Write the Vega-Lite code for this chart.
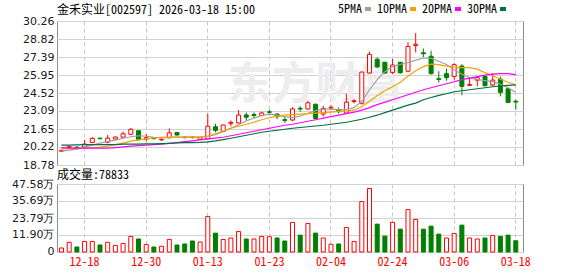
{
  "$schema": "https://vega.github.io/schema/vega-lite/v6.json",
  "padding": {"left": 0, "top": 3, "right": 0, "bottom": 0},
  "background": "#ffffff",
  "spacing": -3,
  "config": {
    "view": {"stroke": "#8c8c8c", "strokeWidth": 1},
    "font": "Noto Sans CJK SC",
    "axis": {"domain": false, "ticks": false, "labelFont": "DejaVu Sans", "labelFontSize": 11, "labelColor": "#1a1a1a", "labelOverlap": false, "labelBound": false, "labelFlush": false, "tickCount": 20},
    "axisY": {"grid": true, "gridColor": "#d2d2d2", "labelPadding": 3, "minExtent": 56, "maxExtent": 56},
    "axisX": {"grid": true, "gridColor": "#c8c8c8", "gridDash": [4, 3], "bandPosition": 0.5, "labelAngle": 0}
  },
  "datasets": {
    "k": [
      {"d": "12-15", "o": 19.88, "h": 20.0, "l": 19.82, "c": 19.95, "v": 2.8, "vd": "u", "5PMA": 19.88, "10PMA": 20.08, "20PMA": 20.16, "30PMA": 20.36},
      {"d": "12-16", "o": 20.18, "h": 20.32, "l": 20.1, "c": 20.24, "v": 6.8, "vd": "u", "5PMA": 19.96, "10PMA": 20.08, "20PMA": 20.14, "30PMA": 20.37},
      {"d": "12-17", "o": 20.2, "h": 20.26, "l": 20.1, "c": 20.16, "v": 3.5, "vd": "d", "5PMA": 20.04, "10PMA": 20.08, "20PMA": 20.12, "30PMA": 20.38},
      {"d": "12-18", "o": 20.21, "h": 20.79, "l": 20.15, "c": 20.45, "v": 7.4, "vd": "u", "5PMA": 20.2, "10PMA": 20.12, "20PMA": 20.12, "30PMA": 20.4},
      {"d": "12-19", "o": 20.58, "h": 21.0, "l": 20.52, "c": 20.9, "v": 7.4, "vd": "u", "5PMA": 20.36, "10PMA": 20.16, "20PMA": 20.12, "30PMA": 20.4},
      {"d": "12-22", "o": 20.92, "h": 20.96, "l": 20.82, "c": 20.88, "v": 4.9, "vd": "d", "5PMA": 20.52, "10PMA": 20.2, "20PMA": 20.12, "30PMA": 20.4},
      {"d": "12-23", "o": 20.6, "h": 21.17, "l": 20.5, "c": 20.92, "v": 6.8, "vd": "u", "5PMA": 20.64, "10PMA": 20.28, "20PMA": 20.13, "30PMA": 20.4},
      {"d": "12-24", "o": 20.85, "h": 21.05, "l": 20.82, "c": 21.01, "v": 4.6, "vd": "u", "5PMA": 20.76, "10PMA": 20.4, "20PMA": 20.17, "30PMA": 20.41},
      {"d": "12-25", "o": 21.0, "h": 21.45, "l": 20.95, "c": 21.27, "v": 6.0, "vd": "u", "5PMA": 20.91, "10PMA": 20.53, "20PMA": 20.22, "30PMA": 20.44},
      {"d": "12-26", "o": 21.23, "h": 21.72, "l": 21.18, "c": 21.63, "v": 10.9, "vd": "u", "5PMA": 21.03, "10PMA": 20.68, "20PMA": 20.28, "30PMA": 20.44},
      {"d": "12-29", "o": 21.51, "h": 21.55, "l": 20.75, "c": 20.79, "v": 9.1, "vd": "d", "5PMA": 21.11, "10PMA": 20.79, "20PMA": 20.32, "30PMA": 20.45},
      {"d": "12-30", "o": 20.85, "h": 21.25, "l": 20.68, "c": 20.95, "v": 5.3, "vd": "u", "5PMA": 21.07, "10PMA": 20.87, "20PMA": 20.36, "30PMA": 20.46},
      {"d": "12-31", "o": 20.92, "h": 20.95, "l": 20.82, "c": 20.88, "v": 3.5, "vd": "d", "5PMA": 20.99, "10PMA": 20.95, "20PMA": 20.4, "30PMA": 20.47},
      {"d": "01-05", "o": 20.78, "h": 20.9, "l": 20.7, "c": 20.82, "v": 4.0, "vd": "u", "5PMA": 20.95, "10PMA": 20.98, "20PMA": 20.44, "30PMA": 20.49},
      {"d": "01-06", "o": 20.95, "h": 21.69, "l": 20.9, "c": 21.34, "v": 8.8, "vd": "u", "5PMA": 20.99, "10PMA": 20.99, "20PMA": 20.5, "30PMA": 20.51},
      {"d": "01-07", "o": 21.37, "h": 21.4, "l": 21.12, "c": 21.17, "v": 4.9, "vd": "d", "5PMA": 21.01, "10PMA": 21.01, "20PMA": 20.56, "30PMA": 20.54},
      {"d": "01-08", "o": 21.0, "h": 21.1, "l": 20.9, "c": 20.96, "v": 5.6, "vd": "d", "5PMA": 21.01, "10PMA": 21.01, "20PMA": 20.64, "30PMA": 20.56},
      {"d": "01-09", "o": 21.0, "h": 21.06, "l": 20.9, "c": 20.96, "v": 7.7, "vd": "d", "5PMA": 21.01, "10PMA": 21.01, "20PMA": 20.71, "30PMA": 20.57},
      {"d": "01-12", "o": 20.83, "h": 21.0, "l": 20.8, "c": 20.98, "v": 7.0, "vd": "u", "5PMA": 21.01, "10PMA": 21.01, "20PMA": 20.79, "30PMA": 20.59},
      {"d": "01-13", "o": 20.87, "h": 22.87, "l": 20.85, "c": 21.87, "v": 24.9, "vd": "u", "5PMA": 21.07, "10PMA": 21.11, "20PMA": 20.87, "30PMA": 20.63},
      {"d": "01-14", "o": 21.83, "h": 22.07, "l": 21.38, "c": 21.54, "v": 13.2, "vd": "d", "5PMA": 21.19, "10PMA": 21.27, "20PMA": 20.93, "30PMA": 20.71},
      {"d": "01-15", "o": 21.45, "h": 22.0, "l": 21.42, "c": 21.97, "v": 8.8, "vd": "u", "5PMA": 21.43, "10PMA": 21.51, "20PMA": 20.99, "30PMA": 20.81},
      {"d": "01-16", "o": 22.1, "h": 22.33, "l": 21.87, "c": 22.18, "v": 9.8, "vd": "u", "5PMA": 21.71, "10PMA": 21.71, "20PMA": 21.11, "30PMA": 20.91},
      {"d": "01-19", "o": 22.13, "h": 23.15, "l": 22.1, "c": 22.76, "v": 14.4, "vd": "u", "5PMA": 21.99, "10PMA": 21.87, "20PMA": 21.23, "30PMA": 21.03},
      {"d": "01-20", "o": 22.77, "h": 22.97, "l": 22.35, "c": 22.59, "v": 9.1, "vd": "d", "5PMA": 22.31, "10PMA": 22.03, "20PMA": 21.35, "30PMA": 21.15},
      {"d": "01-21", "o": 22.8, "h": 22.97, "l": 22.5, "c": 22.72, "v": 9.1, "vd": "u", "5PMA": 22.51, "10PMA": 22.19, "20PMA": 21.47, "30PMA": 21.27},
      {"d": "01-22", "o": 22.73, "h": 23.03, "l": 22.7, "c": 22.93, "v": 10.9, "vd": "u", "5PMA": 22.71, "10PMA": 22.39, "20PMA": 21.59, "30PMA": 21.39},
      {"d": "01-23", "o": 23.02, "h": 23.19, "l": 22.77, "c": 22.98, "v": 10.7, "vd": "u", "5PMA": 22.83, "10PMA": 22.55, "20PMA": 21.71, "30PMA": 21.47},
      {"d": "01-26", "o": 22.84, "h": 22.9, "l": 22.43, "c": 22.63, "v": 9.8, "vd": "d", "5PMA": 22.75, "10PMA": 22.67, "20PMA": 21.83, "30PMA": 21.55},
      {"d": "01-27", "o": 22.4, "h": 22.6, "l": 22.13, "c": 22.33, "v": 7.7, "vd": "d", "5PMA": 22.63, "10PMA": 22.75, "20PMA": 21.95, "30PMA": 21.63},
      {"d": "01-28", "o": 22.37, "h": 23.39, "l": 22.27, "c": 23.25, "v": 20.7, "vd": "u", "5PMA": 22.55, "10PMA": 22.79, "20PMA": 22.03, "30PMA": 21.71},
      {"d": "01-29", "o": 23.3, "h": 23.47, "l": 23.03, "c": 23.24, "v": 11.8, "vd": "d", "5PMA": 22.67, "10PMA": 22.83, "20PMA": 22.15, "30PMA": 21.77},
      {"d": "01-30", "o": 23.24, "h": 23.9, "l": 23.2, "c": 23.74, "v": 20.0, "vd": "u", "5PMA": 22.91, "10PMA": 22.87, "20PMA": 22.27, "30PMA": 21.83},
      {"d": "02-02", "o": 23.62, "h": 23.68, "l": 22.45, "c": 22.49, "v": 13.2, "vd": "d", "5PMA": 23.11, "10PMA": 22.91, "20PMA": 22.39, "30PMA": 21.89},
      {"d": "02-03", "o": 22.84, "h": 23.5, "l": 22.65, "c": 23.29, "v": 9.8, "vd": "u", "5PMA": 23.23, "10PMA": 22.95, "20PMA": 22.51, "30PMA": 21.95},
      {"d": "02-04", "o": 23.32, "h": 23.55, "l": 23.15, "c": 23.38, "v": 5.4, "vd": "u", "5PMA": 23.23, "10PMA": 23.0, "20PMA": 22.63, "30PMA": 22.03},
      {"d": "02-05", "o": 23.2, "h": 23.36, "l": 22.88, "c": 23.03, "v": 5.6, "vd": "d", "5PMA": 23.19, "10PMA": 23.05, "20PMA": 22.75, "30PMA": 22.11},
      {"d": "02-06", "o": 22.92, "h": 24.46, "l": 22.9, "c": 23.79, "v": 17.2, "vd": "u", "5PMA": 23.19, "10PMA": 23.08, "20PMA": 22.87, "30PMA": 22.19},
      {"d": "02-09", "o": 23.84, "h": 24.04, "l": 23.69, "c": 23.9, "v": 7.4, "vd": "u", "5PMA": 23.35, "10PMA": 23.15, "20PMA": 22.99, "30PMA": 22.31},
      {"d": "02-10", "o": 23.7, "h": 26.22, "l": 23.59, "c": 26.19, "v": 35.3, "vd": "u", "5PMA": 23.86, "10PMA": 23.43, "20PMA": 23.15, "30PMA": 22.43},
      {"d": "02-11", "o": 26.11, "h": 27.81, "l": 26.05, "c": 27.6, "v": 44.4, "vd": "u", "5PMA": 24.78, "10PMA": 23.86, "20PMA": 23.35, "30PMA": 22.59},
      {"d": "02-12", "o": 27.21, "h": 27.35, "l": 26.51, "c": 26.6, "v": 19.5, "vd": "d", "5PMA": 25.58, "10PMA": 24.3, "20PMA": 23.59, "30PMA": 22.75},
      {"d": "02-13", "o": 26.97, "h": 27.0, "l": 26.05, "c": 26.11, "v": 11.1, "vd": "d", "5PMA": 26.22, "10PMA": 24.7, "20PMA": 23.79, "30PMA": 22.95},
      {"d": "02-24", "o": 26.16, "h": 27.24, "l": 26.03, "c": 26.75, "v": 20.7, "vd": "u", "5PMA": 26.62, "10PMA": 25.02, "20PMA": 23.98, "30PMA": 23.15},
      {"d": "02-25", "o": 26.97, "h": 27.0, "l": 26.05, "c": 26.14, "v": 16.0, "vd": "d", "5PMA": 26.79, "10PMA": 25.38, "20PMA": 24.18, "30PMA": 23.35},
      {"d": "02-26", "o": 26.26, "h": 28.57, "l": 26.2, "c": 28.23, "v": 29.7, "vd": "u", "5PMA": 26.94, "10PMA": 25.86, "20PMA": 24.38, "30PMA": 23.55},
      {"d": "02-27", "o": 28.3, "h": 29.3, "l": 27.76, "c": 28.4, "v": 22.8, "vd": "u", "5PMA": 27.14, "10PMA": 26.3, "20PMA": 24.58, "30PMA": 23.71},
      {"d": "03-02", "o": 27.73, "h": 28.07, "l": 27.37, "c": 27.65, "v": 16.0, "vd": "d", "5PMA": 27.29, "10PMA": 26.62, "20PMA": 24.78, "30PMA": 23.98},
      {"d": "03-03", "o": 27.45, "h": 27.89, "l": 26.0, "c": 26.06, "v": 18.1, "vd": "d", "5PMA": 27.29, "10PMA": 26.82, "20PMA": 24.94, "30PMA": 24.16},
      {"d": "03-04", "o": 25.66, "h": 26.26, "l": 25.34, "c": 25.6, "v": 12.5, "vd": "d", "5PMA": 27.05, "10PMA": 26.78, "20PMA": 25.1, "30PMA": 24.33},
      {"d": "03-05", "o": 26.06, "h": 26.46, "l": 25.5, "c": 25.74, "v": 9.8, "vd": "u", "5PMA": 26.79, "10PMA": 26.66, "20PMA": 25.26, "30PMA": 24.46},
      {"d": "03-06", "o": 25.84, "h": 26.9, "l": 25.58, "c": 26.78, "v": 13.0, "vd": "u", "5PMA": 26.38, "10PMA": 26.58, "20PMA": 25.42, "30PMA": 24.62},
      {"d": "03-09", "o": 26.67, "h": 26.82, "l": 24.34, "c": 25.05, "v": 18.8, "vd": "d", "5PMA": 26.02, "10PMA": 26.54, "20PMA": 25.58, "30PMA": 24.7},
      {"d": "03-10", "o": 25.13, "h": 25.79, "l": 25.06, "c": 25.2, "v": 9.8, "vd": "u", "5PMA": 25.74, "10PMA": 26.54, "20PMA": 25.7, "30PMA": 24.78},
      {"d": "03-11", "o": 25.54, "h": 25.86, "l": 25.06, "c": 25.74, "v": 9.1, "vd": "u", "5PMA": 25.58, "10PMA": 26.42, "20PMA": 25.82, "30PMA": 24.86},
      {"d": "03-12", "o": 25.84, "h": 25.9, "l": 25.05, "c": 25.1, "v": 9.8, "vd": "d", "5PMA": 25.5, "10PMA": 26.14, "20PMA": 25.94, "30PMA": 24.94},
      {"d": "03-13", "o": 25.16, "h": 26.11, "l": 25.05, "c": 25.55, "v": 11.6, "vd": "u", "5PMA": 25.42, "10PMA": 25.9, "20PMA": 26.03, "30PMA": 25.02},
      {"d": "03-16", "o": 25.63, "h": 25.83, "l": 24.25, "c": 24.57, "v": 10.9, "vd": "d", "5PMA": 25.22, "10PMA": 25.62, "20PMA": 26.06, "30PMA": 25.08},
      {"d": "03-17", "o": 24.86, "h": 24.9, "l": 23.75, "c": 23.77, "v": 11.8, "vd": "d", "5PMA": 24.94, "10PMA": 25.38, "20PMA": 26.06, "30PMA": 25.13},
      {"d": "03-18", "o": 23.86, "h": 23.98, "l": 23.19, "c": 23.8, "v": 7.88, "vd": "d", "5PMA": 24.58, "10PMA": 25.18, "20PMA": 25.98, "30PMA": 25.16}
    ]
  },
  "vconcat": [
    {
      "width": 466,
      "height": 144,
      "title": {"text": "金禾实业[002597] 2026-03-18 15:00", "anchor": "start", "frame": "group", "font": "Noto Sans Mono CJK SC, DejaVu Sans Mono, Noto Sans CJK SC", "fontSize": 12, "fontWeight": "normal", "color": "#000000", "offset": -2},
      "data": {"name": "k"},
      "encoding": {
        "x": {
          "field": "d", "type": "ordinal", "sort": null,
          "scale": {"domain": ["12-15","12-16","12-17","12-18","12-19","12-22","12-23","12-24","12-25","12-26","12-29","12-30","12-31","01-05","01-06","01-07","01-08","01-09","01-12","01-13","01-14","01-15","01-16","01-19","01-20","01-21","01-22","01-23","01-26","01-27","01-28","01-29","01-30","02-02","02-03","02-04","02-05","02-06","02-09","02-10","02-11","02-12","02-13","02-24","02-25","02-26","02-27","03-02","03-03","03-04","03-05","03-06","03-09","03-10","03-11","03-12","03-13","03-16","03-17","03-18"], "paddingInner": 0, "paddingOuter": 0.26, "align": 0.16},
          "axis": {"title": null, "labels": false, "minExtent": 0, "maxExtent": 0, "values": ["12-18","12-30","01-13","01-23","02-04","02-24","03-06","03-18"]}
        }
      },
      "layer": [
        {
          "data": {"values": [{"w": "东方财富"}]},
          "mark": {"type": "text", "fontSize": 44, "fontWeight": "bold", "font": "Noto Sans CJK SC", "color": "#ededed", "align": "center", "baseline": "middle"},
          "encoding": {
            "x": {"datum": "02-02", "type": "ordinal"},
            "y": {"datum": 25.1, "type": "quantitative", "scale": {"domain": [18.78, 30.26], "nice": false, "zero": false}},
            "text": {"field": "w"}
          }
        },
        {
          "mark": {"type": "rule", "strokeWidth": 1},
          "encoding": {
            "y": {"field": "l", "type": "quantitative", "title": null, "scale": {"domain": [18.78, 30.26], "nice": false, "zero": false}, "axis": {"title": null, "values": [18.78, 20.22, 21.65, 23.09, 24.52, 25.95, 27.39, 28.82, 30.26], "format": ".2f", "tickCount": 20}},
            "y2": {"field": "h"},
            "color": {"condition": {"test": "datum.c >= datum.o", "value": "#ff0000"}, "value": "#008000"}
          }
        },
        {
          "mark": {"type": "bar", "width": 4, "strokeWidth": 1},
          "encoding": {
            "y": {"field": "o", "type": "quantitative", "title": null},
            "y2": {"field": "c"},
            "fill": {"condition": {"test": "datum.c >= datum.o", "value": "#ffffff"}, "value": "#008000"},
            "stroke": {"condition": {"test": "datum.c >= datum.o", "value": "#ff0000"}, "value": "#008000"}
          }
        },
        {
          "transform": [{"fold": ["5PMA", "10PMA", "20PMA", "30PMA"], "as": ["ma", "val"]}],
          "mark": {"type": "line", "strokeWidth": 1.2},
          "encoding": {
            "y": {"field": "val", "type": "quantitative", "title": null},
            "color": {
              "field": "ma", "type": "nominal",
              "scale": {"domain": ["5PMA", "10PMA", "20PMA", "30PMA"], "range": ["#a0a0a0", "#f4a300", "#ff00ff", "#00703c"]},
              "legend": {"orient": "none", "legendX": 305, "legendY": -18, "direction": "horizontal", "title": null, "labelFont": "Noto Sans Mono CJK SC, DejaVu Sans Mono", "labelFontSize": 12, "labelColor": "#000000", "symbolType": "stroke", "symbolSize": 36, "symbolStrokeWidth": 4, "labelAlign": "right", "labelOffset": -12, "columnPadding": -3}
            }
          }
        }
      ]
    },
    {
      "width": 466,
      "height": 68,
      "title": {"text": "成交量:78833", "anchor": "start", "frame": "group", "font": "Noto Sans Mono CJK SC, DejaVu Sans Mono, Noto Sans CJK SC", "fontSize": 12, "fontWeight": "normal", "color": "#000000", "offset": -4},
      "data": {"name": "k"},
      "mark": {"type": "bar", "width": 4, "strokeWidth": 1},
      "encoding": {
        "x": {
          "field": "d", "type": "ordinal", "sort": null,
          "scale": {"domain": ["12-15","12-16","12-17","12-18","12-19","12-22","12-23","12-24","12-25","12-26","12-29","12-30","12-31","01-05","01-06","01-07","01-08","01-09","01-12","01-13","01-14","01-15","01-16","01-19","01-20","01-21","01-22","01-23","01-26","01-27","01-28","01-29","01-30","02-02","02-03","02-04","02-05","02-06","02-09","02-10","02-11","02-12","02-13","02-24","02-25","02-26","02-27","03-02","03-03","03-04","03-05","03-06","03-09","03-10","03-11","03-12","03-13","03-16","03-17","03-18"], "paddingInner": 0, "paddingOuter": 0.26, "align": 0.16},
          "axis": {"title": null, "values": ["12-18","12-30","01-13","01-23","02-04","02-24","03-06","03-18"], "labelColor": "#ff0000", "labelFont": "Noto Sans Mono CJK SC, DejaVu Sans Mono", "labelFontSize": 12, "labelPadding": 4}
        },
        "y": {"field": "v", "type": "quantitative", "scale": {"domain": [0, 47.58], "nice": false}, "axis": {"title": null, "values": [0.01, 11.9, 23.79, 35.69, 47.58], "tickCount": 20, "labelExpr": "datum.value > 0.1 ? format(datum.value, '.2f') + '万' : '0'"}},
        "fill": {"condition": {"test": "datum.vd == 'u'", "value": "#ffffff"}, "value": "#008000"},
        "stroke": {"condition": {"test": "datum.vd == 'u'", "value": "#ff0000"}, "value": "#008000"}
      }
    }
  ]
}
